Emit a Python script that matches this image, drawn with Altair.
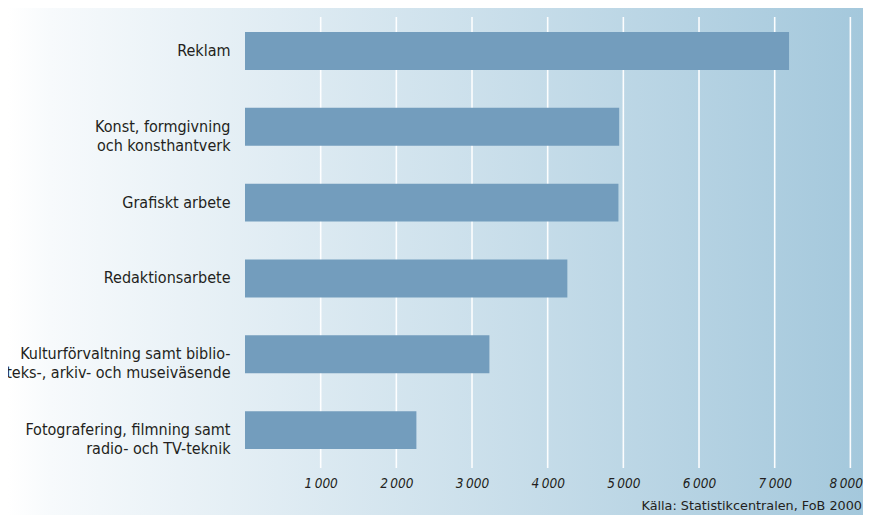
import altair as alt
import pandas as pd

categories = [
    "Reklam",
    "Konst, formgivning\noch konsthantverk",
    "Grafiskt arbete",
    "Redaktionsarbete",
    "Kulturförvaltning samt biblio-\nteks-, arkiv- och museiväsende",
    "Fotografering, filmning samt\nradio- och TV-teknik",
]
values = [7190, 4945, 4935, 4260, 3230, 2265]
grid_ticks = [1000, 2000, 3000, 4000, 5000, 6000, 7000, 8000]
source = ["Källa: Statistikcentralen, FoB 2000"]

W, H = 618, 455
XMAX = 8167

df = pd.DataFrame({"cat": categories, "val": values})
gdf = pd.DataFrame({"t": grid_ticks})
bg = pd.DataFrame({"a": [0]})
src = pd.DataFrame({"s": source})

label_font = "DejaVu Sans Condensed"
text_color = "#231f20"

xscale = alt.Scale(domain=[0, XMAX], nice=False, zero=True)
xaxis = alt.Axis(
    values=grid_ticks,
    grid=False,
    domain=False,
    ticks=False,
    title=None,
    zindex=1,
    labelFont=label_font,
    labelFontStyle="italic",
    labelFontSize=13.5,
    labelColor=text_color,
    labelPadding=8,
    labelAlign=alt.condition("datum.value >= 8000", alt.value("right"), alt.value("center")),
    labelOffset=alt.condition("datum.value >= 8000", alt.value(12), alt.value(0)),
    labelExpr="replace(format(datum.value, ','), ',', '\u2009')",
)

background = alt.Chart(bg).mark_rect(
    fill=alt.Gradient(
        gradient="linear",
        stops=[
            alt.GradientStop(color="#ffffff", offset=0),
            alt.GradientStop(color="#f7fafc", offset=0.05),
            alt.GradientStop(color="#a4c8dc", offset=1),
        ],
        x1=0, x2=1, y1=0, y2=0,
    )
).encode(
    x=alt.value(-237), x2=alt.value(W), y=alt.value(-5), y2=alt.value(H + 60)
)

grid = alt.Chart(gdf).mark_rule(color="white", strokeWidth=1.6, opacity=0.95).encode(
    x=alt.X("t:Q", scale=xscale, axis=xaxis),
    y=alt.value(4),
    y2=alt.value(H),
)

bars = alt.Chart(df).mark_bar(color="#739dbd").encode(
    x=alt.X("val:Q", scale=xscale, axis=xaxis),
    y=alt.Y(
        "cat:N",
        sort=None,
        scale=alt.Scale(paddingInner=0.5, paddingOuter=0.25),
        axis=alt.Axis(
            title=None,
            domain=False,
            ticks=False,
            zindex=1,
            labelFont=label_font,
            labelFontSize=16,
            labelColor=text_color,
            labelPadding=15,
            labelLimit=400,
            labelLineHeight=19,
            labelExpr="split(datum.label, '\\n')",
        ),
    ),
)

note = alt.Chart(src).mark_text(
    align="right",
    baseline="middle",
    font="DejaVu Sans",
    fontSize=12.8,
    color=text_color,
).encode(
    text="s:N",
    x=alt.value(W - 1),
    y=alt.value(H + 38),
)

chart = alt.layer(background, grid, bars, note).properties(
    width=W,
    height=H,
    autosize=alt.AutoSizeParams(type="none"),
    padding={"left": 237, "top": 5, "right": 0, "bottom": 47},
).configure_view(stroke=None).configure(background="white")

chart.save("out.html", embed_options={"renderer": "svg", "actions": False})
